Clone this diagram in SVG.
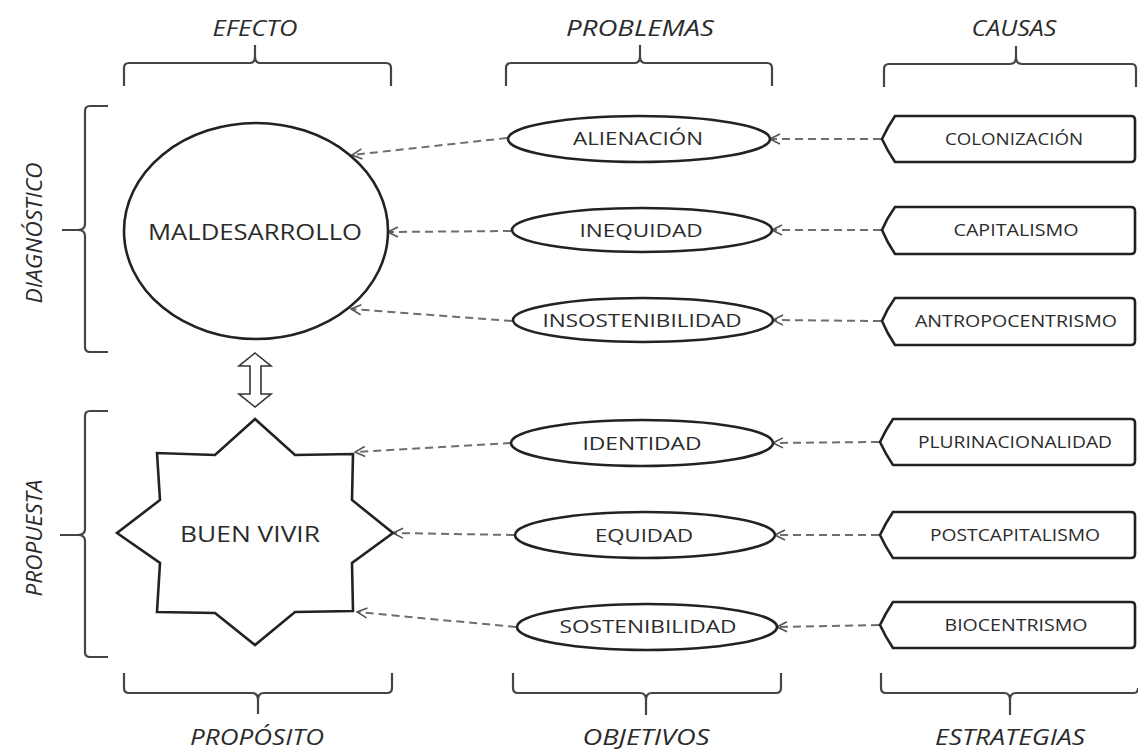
<svg xmlns="http://www.w3.org/2000/svg" width="1138" height="749" viewBox="0 0 1138 749">
<style>
.bg{fill:#fff}
.brace{fill:none;stroke:#444;stroke-width:2.2}
.shape{fill:#fff;stroke:#222;stroke-width:2.6}
.conn{fill:none;stroke:#6e6e6e;stroke-width:2;stroke-dasharray:8,5}
.head{font-family:"Open Sans","Liberation Sans",sans-serif;font-style:italic;font-weight:500;font-size:22px;fill:#2b2b2b;text-anchor:middle}
.big{font-family:"Open Sans","Liberation Sans",sans-serif;font-weight:500;font-size:22px;fill:#2b2b2b;text-anchor:middle}
.mid{font-family:"Open Sans","Liberation Sans",sans-serif;font-weight:500;font-size:19px;fill:#2b2b2b;text-anchor:middle}
.sm{font-family:"Open Sans","Liberation Sans",sans-serif;font-weight:500;font-size:16px;fill:#2b2b2b;text-anchor:middle}
</style>
<defs>
<marker id="arr" viewBox="0 0 12 12" refX="11" refY="6" markerWidth="12" markerHeight="12" markerUnits="userSpaceOnUse" orient="auto">
<path d="M1,1 L11,6 L1,11" fill="none" stroke="#555" stroke-width="1.6"/>
</marker>
</defs>
<rect class="bg" x="0" y="0" width="1138" height="749"/>

<g id="headings">
<text class="head" x="255" y="36" textLength="85" lengthAdjust="spacingAndGlyphs">EFECTO</text>
<text class="head" x="640" y="36" textLength="148" lengthAdjust="spacingAndGlyphs">PROBLEMAS</text>
<text class="head" x="1014" y="36" textLength="85" lengthAdjust="spacingAndGlyphs">CAUSAS</text>
<text class="head" x="257" y="745" textLength="134" lengthAdjust="spacingAndGlyphs">PROPÓSITO</text>
<text class="head" x="646" y="745" textLength="127" lengthAdjust="spacingAndGlyphs">OBJETIVOS</text>
<text class="head" x="1010" y="745" textLength="150" lengthAdjust="spacingAndGlyphs">ESTRATEGIAS</text>
<text class="head" transform="translate(42,233) rotate(-90)" x="0" y="0" textLength="141" lengthAdjust="spacingAndGlyphs">DIAGNÓSTICO</text>
<text class="head" transform="translate(42,538) rotate(-90)" x="0" y="0" textLength="117" lengthAdjust="spacingAndGlyphs">PROPUESTA</text>
</g>

<g id="braces">
<path class="brace" d="M124,86 V68 Q124,63 129,63 H250 Q255,63 255,56 V45 M255,56 Q255,63 260,63 H386 Q391,63 391,68 V86"/>
<path class="brace" d="M506,86 V68 Q506,63 511,63 H635 Q640,63 640,56 V45 M640,56 Q640,63 645,63 H767 Q772,63 772,68 V86"/>
<path class="brace" d="M884,87 V69 Q884,64 889,64 H1010 Q1016,64 1016,57 V46 M1016,57 Q1016,64 1022,64 H1132 Q1136,64 1136,69 V87"/>
<path class="brace" d="M124,673 V688 Q124,693 129,693 H252 Q258,693 258,700 V714 M258,700 Q258,693 264,693 H387 Q392,693 392,688 V673"/>
<path class="brace" d="M513,673 V688 Q513,693 518,693 H640 Q646,693 646,700 V715 M646,700 Q646,693 652,693 H776 Q781,693 781,688 V673"/>
<path class="brace" d="M881,673 V688 Q881,693 886,693 H1004 Q1010,693 1010,700 V715 M1010,700 Q1010,693 1016,693 H1134 Q1138,693 1138,688"/>
<path class="brace" d="M108,106 H90 Q85,106 85,111 V224 Q85,230 78,230 H62 M78,230 Q85,230 85,236 V347 Q85,352 90,352 H108"/>
<path class="brace" d="M108,411 H90 Q85,411 85,416 V529 Q85,535 78,535 H60 M78,535 Q85,535 85,541 V652 Q85,657 90,657 H108"/>
</g>

<g id="connectors">
<line class="conn" x1="507" y1="138" x2="352" y2="155" marker-end="url(#arr)"/>
<line class="conn" x1="511" y1="231" x2="388" y2="232" marker-end="url(#arr)"/>
<line class="conn" x1="512" y1="321" x2="351" y2="309" marker-end="url(#arr)"/>
<line class="conn" x1="511" y1="443" x2="355" y2="452" marker-end="url(#arr)"/>
<line class="conn" x1="514" y1="535" x2="393" y2="533" marker-end="url(#arr)"/>
<line class="conn" x1="516" y1="627" x2="357" y2="612" marker-end="url(#arr)"/>
<line class="conn" x1="881" y1="139" x2="770" y2="139" marker-end="url(#arr)"/>
<line class="conn" x1="881" y1="230" x2="772" y2="230" marker-end="url(#arr)"/>
<line class="conn" x1="881" y1="321" x2="773" y2="320" marker-end="url(#arr)"/>
<line class="conn" x1="879" y1="442" x2="773" y2="443" marker-end="url(#arr)"/>
<line class="conn" x1="879" y1="535" x2="775" y2="535" marker-end="url(#arr)"/>
<line class="conn" x1="879" y1="625" x2="777" y2="627" marker-end="url(#arr)"/>
</g>

<g id="maldesarrollo">
<ellipse class="shape" cx="256" cy="231" rx="132" ry="108"/>
<text class="big" x="255" y="240" textLength="214" lengthAdjust="spacingAndGlyphs">MALDESARROLLO</text>
</g>

<g id="double-arrow">
<polygon points="255,353 271,366 261,366 261,394 271,394 255,407 239,394 250,394 250,366 239,366" fill="#fff" stroke="#333" stroke-width="1.6"/>
</g>

<g id="buen-vivir">
<polygon class="shape" points="255,419 295,455 353,454 352,500 393,533 352,563 353,611 295,612 255,645 215,613 157,612 160,563 117,533 160,500 157,453 215,455"/>
<text class="big" x="250" y="542" textLength="140" lengthAdjust="spacingAndGlyphs">BUEN VIVIR</text>
</g>

<g id="alienacion"><ellipse class="shape" cx="639" cy="139" rx="131" ry="23"/><text class="mid" x="638" y="145" textLength="130" lengthAdjust="spacingAndGlyphs">ALIENACIÓN</text></g>
<g id="inequidad"><ellipse class="shape" cx="642" cy="230" rx="130" ry="22"/><text class="mid" x="641" y="237" textLength="123" lengthAdjust="spacingAndGlyphs">INEQUIDAD</text></g>
<g id="insostenibilidad"><ellipse class="shape" cx="643" cy="320" rx="130" ry="22"/><text class="mid" x="642" y="327" textLength="199" lengthAdjust="spacingAndGlyphs">INSOSTENIBILIDAD</text></g>
<g id="identidad"><ellipse class="shape" cx="642" cy="443" rx="131" ry="23"/><text class="mid" x="642" y="450" textLength="119" lengthAdjust="spacingAndGlyphs">IDENTIDAD</text></g>
<g id="equidad"><ellipse class="shape" cx="645" cy="535" rx="130" ry="23"/><text class="mid" x="644" y="542" textLength="98" lengthAdjust="spacingAndGlyphs">EQUIDAD</text></g>
<g id="sostenibilidad"><ellipse class="shape" cx="647" cy="627" rx="130" ry="23"/><text class="mid" x="648" y="633" textLength="177" lengthAdjust="spacingAndGlyphs">SOSTENIBILIDAD</text></g>

<g id="colonizacion"><path class="shape" d="M895,116 H1131 Q1135,116 1135,120 V158 Q1135,162 1131,162 H895 Q887,150 882,139 Q887,128 895,116 Z"/><text class="sm" x="1014" y="145" textLength="138" lengthAdjust="spacingAndGlyphs">COLONIZACIÓN</text></g>
<g id="capitalismo"><path class="shape" d="M895,207 H1131 Q1135,207 1135,211 V250 Q1135,254 1131,254 H895 Q887,242 882,230 Q887,218 895,207 Z"/><text class="sm" x="1016" y="236" textLength="125" lengthAdjust="spacingAndGlyphs">CAPITALISMO</text></g>
<g id="antropocentrismo"><path class="shape" d="M895,298 H1131 Q1135,298 1135,302 V341 Q1135,345 1131,345 H895 Q887,333 882,321 Q887,309 895,298 Z"/><text class="sm" x="1016" y="327" textLength="202" lengthAdjust="spacingAndGlyphs">ANTROPOCENTRISMO</text></g>
<g id="plurinacionalidad"><path class="shape" d="M893,419 H1131 Q1135,419 1135,423 V461 Q1135,465 1131,465 H893 Q885,453 880,442 Q885,431 893,419 Z"/><text class="sm" x="1015" y="448" textLength="194" lengthAdjust="spacingAndGlyphs">PLURINACIONALIDAD</text></g>
<g id="postcapitalismo"><path class="shape" d="M893,512 H1131 Q1135,512 1135,516 V554 Q1135,558 1131,558 H893 Q885,546 880,535 Q885,524 893,512 Z"/><text class="sm" x="1015" y="541" textLength="170" lengthAdjust="spacingAndGlyphs">POSTCAPITALISMO</text></g>
<g id="biocentrismo"><path class="shape" d="M893,602 H1131 Q1135,602 1135,606 V644 Q1135,648 1131,648 H893 Q885,636 880,625 Q885,614 893,602 Z"/><text class="sm" x="1016" y="631" textLength="143" lengthAdjust="spacingAndGlyphs">BIOCENTRISMO</text></g>
</svg>
